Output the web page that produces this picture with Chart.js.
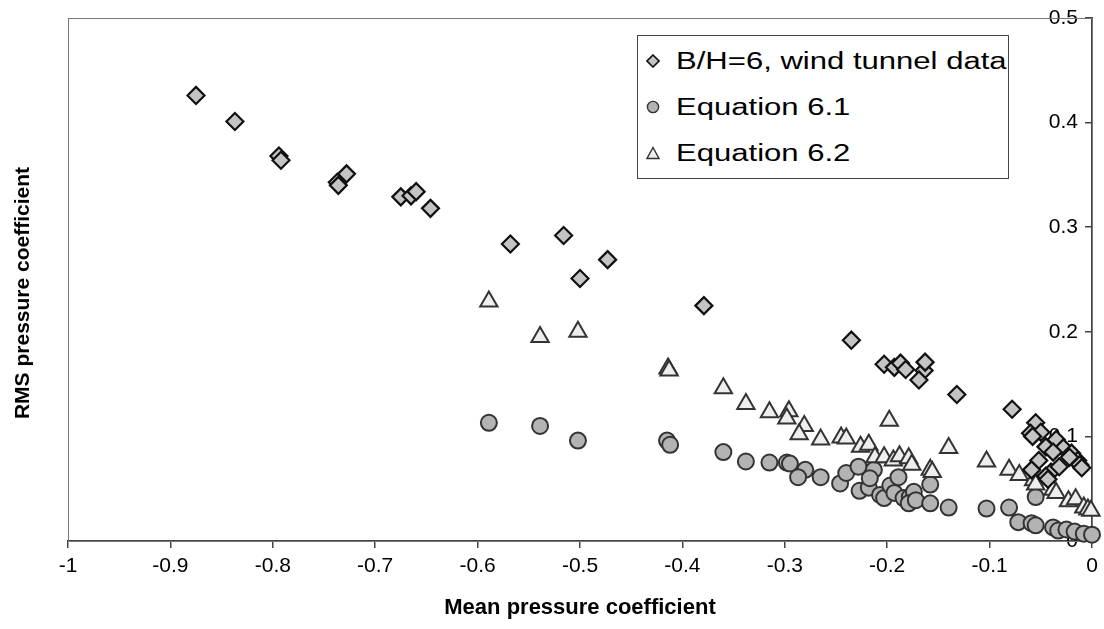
<!DOCTYPE html>
<html>
<head>
<meta charset="utf-8">
<script src="https://cdn.jsdelivr.net/npm/chart.js@4.4.1/dist/chart.umd.min.js"></script>
<style>
  html, body { margin: 0; padding: 0; background: #fff; }
  #wrap { position: relative; width: 1104px; height: 629px; }
  #legend {
    position: absolute; left: 637px; top: 35px; width: 370px; height: 142px;
    border: 1px solid #444; background: #fff;
    font-family: "Liberation Sans", Arial, sans-serif; font-size: 23px; color: #000;
  }
  #legend .row { position: absolute; left: 0; height: 30px; line-height: 30px; white-space: nowrap; }
  #legend svg { position: absolute; left: 8px; top: 8px; }
  #legend span { position: absolute; left: 38px; top: 0; transform: scaleX(1.35); transform-origin: 0 50%; }
  #ytitle {
    position: absolute; left: 22px; top: 293px; width: 400px; margin-left: -200px; margin-top: -13px;
    height: 26px; line-height: 26px; text-align: center; white-space: nowrap;
    transform: rotate(-90deg); transform-origin: 50% 50%;
    font-family: "Liberation Sans", Arial, sans-serif; font-size: 21px; font-weight: bold; color: #000;
  }
</style>
</head>
<body>
<div id="wrap">
  <canvas id="chart" width="1104" height="629"></canvas>
  <div id="ytitle">RMS pressure coefficient</div>
  <div id="legend"></div>
</div>
<script>
// B/H=6, wind tunnel data
const tunnelMean = [-0.875, -0.837, -0.794, -0.792, -0.737, -0.736, -0.728, -0.675, -0.665, -0.660, -0.646,
  -0.568, -0.516, -0.500, -0.473, -0.379, -0.235, -0.203, -0.193, -0.187, -0.182, -0.164, -0.163, -0.169,
  -0.132, -0.078, -0.055, -0.060, -0.050, -0.045, -0.035, -0.028, -0.020, -0.014, -0.012, -0.052, -0.059,
  -0.040, -0.032, -0.045, -0.043, -0.022, -0.010, -0.058, -0.038];
const tunnelRms = [0.426, 0.401, 0.368, 0.364, 0.343, 0.340, 0.351, 0.329, 0.330, 0.334, 0.318,
  0.284, 0.292, 0.251, 0.269, 0.225, 0.192, 0.169, 0.166, 0.170, 0.164, 0.163, 0.171, 0.154,
  0.140, 0.126, 0.113, 0.103, 0.104, 0.090, 0.097, 0.089, 0.084, 0.077, 0.073, 0.077, 0.068,
  0.066, 0.071, 0.062, 0.059, 0.080, 0.070, 0.100, 0.085];

// Equation 6.1
const eq61Mean = [-0.589, -0.539, -0.502, -0.415, -0.412, -0.360, -0.338, -0.315, -0.298, -0.295, -0.280,
  -0.287, -0.265, -0.246, -0.240, -0.228, -0.227, -0.218, -0.213, -0.217, -0.207, -0.203, -0.197, -0.193,
  -0.189, -0.184, -0.178, -0.174, -0.179, -0.172, -0.158, -0.158, -0.140, -0.103, -0.081, -0.072, -0.059,
  -0.055, -0.055, -0.038, -0.033, -0.025, -0.017, -0.008, 0.000];
const eq61Rms = [0.113, 0.110, 0.096, 0.096, 0.092, 0.085, 0.076, 0.075, 0.075, 0.074, 0.068,
  0.061, 0.061, 0.055, 0.065, 0.071, 0.048, 0.051, 0.068, 0.060, 0.044, 0.041, 0.053, 0.046,
  0.061, 0.041, 0.042, 0.047, 0.036, 0.039, 0.054, 0.036, 0.032, 0.031, 0.032, 0.018, 0.017,
  0.015, 0.042, 0.013, 0.010, 0.011, 0.009, 0.007, 0.006];

// Equation 6.2
const eq62Mean = [-0.589, -0.539, -0.502, -0.414, -0.413, -0.360, -0.338, -0.315, -0.296, -0.298, -0.281,
  -0.286, -0.265, -0.245, -0.240, -0.226, -0.218, -0.198, -0.212, -0.203, -0.194, -0.188, -0.179, -0.176,
  -0.158, -0.156, -0.140, -0.103, -0.081, -0.071, -0.057, -0.055, -0.038, -0.035, -0.023, -0.016, -0.008,
  -0.004, -0.001];
const eq62Rms = [0.229, 0.195, 0.200, 0.165, 0.163, 0.146, 0.131, 0.123, 0.124, 0.117, 0.110,
  0.102, 0.097, 0.099, 0.098, 0.090, 0.092, 0.115, 0.080, 0.080, 0.077, 0.081, 0.079, 0.073,
  0.068, 0.066, 0.089, 0.076, 0.068, 0.063, 0.058, 0.054, 0.049, 0.046, 0.038, 0.040, 0.032,
  0.030, 0.029];

const xTicks = [-1, -0.9, -0.8, -0.7, -0.6, -0.5, -0.4, -0.3, -0.2, -0.1, 0];
const yTicks = [0, 0.1, 0.2, 0.3, 0.4, 0.5];

const FONT = '"Liberation Sans", Arial, sans-serif';

function toPoints(xs, ys) {
  return xs.map((x, i) => ({ x: x, y: ys[i] }));
}

// Series styles, also used by the legend
const series = [
  { label: 'B/H=6, wind tunnel data', data: toPoints(tunnelMean, tunnelRms),
    pointStyle: 'rectRot', pointRadius: 8.5, backgroundColor: '#c4c4c4', borderColor: '#111', borderWidth: 2.2 },
  { label: 'Equation 6.2', data: toPoints(eq62Mean, eq62Rms),
    pointStyle: 'triangle', pointRadius: 10, backgroundColor: '#eeeeee', borderColor: '#333', borderWidth: 2 },
  { label: 'Equation 6.1', data: toPoints(eq61Mean, eq61Rms),
    pointStyle: 'circle', pointRadius: 8, backgroundColor: '#b3b3b3', borderColor: '#333', borderWidth: 2 }
];

// Thin frame round the plot area
const frame = {
  id: 'frame',
  beforeDatasetsDraw(chart) {
    const a = chart.chartArea, ctx = chart.ctx;
    ctx.save();
    ctx.strokeStyle = '#777';
    ctx.lineWidth = 1;
    ctx.strokeRect(a.left + 0.5, a.top + 0.5, a.right - a.left, a.bottom - a.top);
    ctx.restore();
  }
};

function fmt(v) {
  return String(Number(v.toFixed(1)));
}

new Chart(document.getElementById('chart'), {
  type: 'scatter',
  data: {
    datasets: series.map(s => ({
      label: s.label,
      data: s.data,
      pointStyle: s.pointStyle,
      pointRadius: s.pointRadius,
      pointHoverRadius: s.pointRadius,
      backgroundColor: s.backgroundColor,
      borderColor: s.borderColor,
      borderWidth: s.borderWidth,
      clip: false
    }))
  },
  options: {
    responsive: false,
    animation: false,
    events: [],
    layout: { padding: { top: 18, left: 68, right: 0, bottom: 8 } },
    plugins: { legend: { display: false }, tooltip: { enabled: false } },
    scales: {
      x: {
        type: 'linear', position: 'bottom', min: -1, max: 0,
        afterBuildTicks: s => { s.ticks = xTicks.map(v => ({ value: v })); },
        afterFit: s => { s.height = 80; s.paddingLeft = 0; s.paddingRight = 0; },
        ticks: { callback: fmt, color: '#000', font: { family: FONT, size: 21 }, padding: 6, maxRotation: 0 },
        grid: { drawOnChartArea: false, tickLength: 7, color: '#444', lineWidth: 1.5 },
        border: { color: '#444', width: 2 },
        title: { display: true, text: 'Mean pressure coefficient', color: '#000',
          font: { family: FONT, size: 22, weight: 'bold' }, padding: 0 }
      },
      y: {
        type: 'linear', position: 'right', min: 0, max: 0.5, z: 1,
        afterBuildTicks: s => { s.ticks = yTicks.map(v => ({ value: v })); },
        afterFit: s => { s.width = 8; s.paddingTop = 0; s.paddingBottom = 0; },
        ticks: { callback: fmt, color: '#000', font: { family: FONT, size: 21 }, mirror: true, padding: -14 },
        grid: { drawOnChartArea: false, tickLength: -7, color: '#444', lineWidth: 1.5 },
        border: { color: '#444', width: 2 }
      }
    }
  },
  plugins: [frame]
});

// HTML legend, same order as the reference
const legendRows = [series[0], series[2], series[1]];
const icons = {
  rectRot: '<polygon points="7,1 13,7 7,13 1,7" fill="#c4c4c4" stroke="#111" stroke-width="1.6"/>',
  circle: '<circle cx="7" cy="7" r="5.6" fill="#b3b3b3" stroke="#333" stroke-width="1.4"/>',
  triangle: '<polygon points="7,1.5 13,12.5 1,12.5" fill="#eeeeee" stroke="#333" stroke-width="1.4"/>'
};
const legend = document.getElementById('legend');
legendRows.forEach((s, i) => {
  const row = document.createElement('div');
  row.className = 'row';
  row.style.top = (10 + i * 46) + 'px';
  row.innerHTML = '<svg width="14" height="14">' + icons[s.pointStyle] + '</svg><span>' + s.label + '</span>';
  legend.appendChild(row);
});
</script>
</body>
</html>
